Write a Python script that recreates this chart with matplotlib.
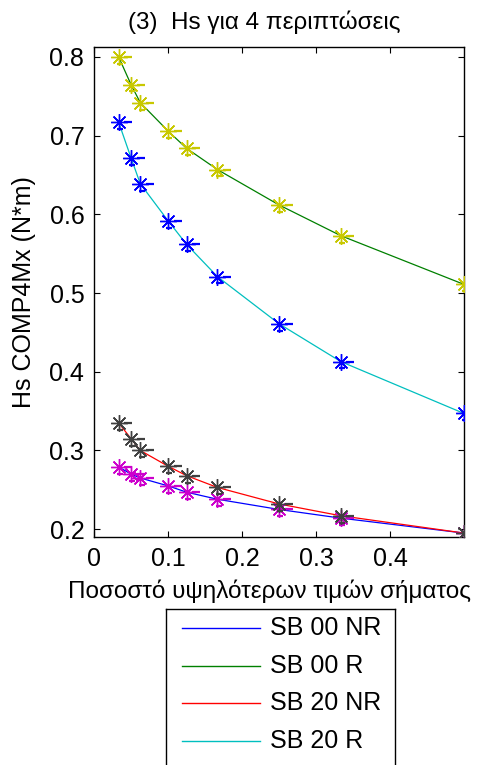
import matplotlib
matplotlib.use("Agg")
import matplotlib.pyplot as plt
import matplotlib.transforms as mtransforms

plt.rcParams['font.family'] = ['Liberation Sans', 'DejaVu Sans']

# ── DATA ──────────────────────────────────────────────────────────────────────
x_vals = [1/30, 1/20, 1/16, 1/10, 1/8, 1/6, 1/4, 1/3, 1/2]

sb00_nr = [0.279, 0.270, 0.265, 0.255, 0.247, 0.238, 0.225, 0.214, 0.195]
sb00_r  = [0.800, 0.765, 0.742, 0.706, 0.684, 0.657, 0.612, 0.573, 0.511]
sb20_nr = [0.335, 0.315, 0.300, 0.280, 0.268, 0.253, 0.232, 0.217, 0.195]
sb20_r  = [0.717, 0.672, 0.639, 0.592, 0.562, 0.521, 0.461, 0.413, 0.347]

labels      = ["SB 00 NR", "SB 00 R", "SB 20 NR", "SB 20 R"]
series      = [sb00_nr, sb00_r, sb20_nr, sb20_r]
line_cols   = ["#0000ff", "#008000", "#ff0000", "#00bfbf"]
marker_cols = ["#cc00cc", "#c8c800", "#404040", "#0000ff"]

xticks = [0, 0.1, 0.2, 0.3, 0.4]
yticks = [0.2, 0.3, 0.4, 0.5, 0.6, 0.7, 0.8]

# ── FIGURE ────────────────────────────────────────────────────────────────────
fig = plt.figure(figsize=(4.82, 7.65), dpi=100)
ax = fig.add_axes([94/482, 1 - 537/765, (464 - 94)/482, (537 - 47)/765])

asterisk = (8, 2, 0)   # MATLAB-like '*' (plus + cross)
for ys, lc, mc in zip(series, line_cols, marker_cols):
    ax.plot(x_vals, ys, color=lc, lw=0.9, zorder=2)
    ax.plot(x_vals, ys, ls="none", marker=asterisk, ms=12, mew=1.0,
            color=mc, zorder=3)
    # extra dash bits that sit beside each marker
    right = mtransforms.offset_copy(ax.transData, fig=fig, x=7, y=0, units="points")
    down = mtransforms.offset_copy(ax.transData, fig=fig, x=1, y=-5, units="points")
    ax.plot(x_vals, ys, ls="none", marker="_", ms=6, mew=1.6,
            color=mc, transform=right, zorder=3)
    ax.plot(x_vals, ys, ls="none", marker="_", ms=4, mew=1.6,
            color=mc, transform=down, zorder=3)

ax.set_xlim(0, 0.5)
ax.set_ylim(0.19, 0.8127)
ax.set_xticks(xticks)
ax.set_xticklabels(["0", "0.1", "0.2", "0.3", "0.4"])
ax.set_yticks(yticks)
ax.set_yticklabels(["0.2", "0.3", "0.4", "0.5", "0.6", "0.7", "0.8"])
ax.tick_params(direction="in", length=4, width=0.8, top=True, right=True,
               labelsize=18, pad=7)
for s in ax.spines.values():
    s.set_linewidth(1.0)

ax.set_title("(3)  Hs για 4 περιπτώσεις", fontsize=17.5, pad=13,
             x=(264 - 94)/370)
ax.set_ylabel("Hs COMP4Mx (N*m)", fontsize=18, labelpad=10)
ax.set_xlabel("Ποσοστό υψηλότερων τιμών σήματος", fontsize=17.5, labelpad=6)
ax.xaxis.label.set_x((270 - 94)/370)

# ── LEGEND BOX (below axes, runs past the bottom edge) ───────────────────────
lg = fig.add_axes([166/482, 0, (395 - 166)/482, (765 - 609)/765])
lg.set_xlim(0, 1)
lg.set_ylim(0, 1)
lg.set_xticks([])
lg.set_yticks([])
lg.spines["bottom"].set_visible(False)
for side in ["left", "top", "right"]:
    lg.spines[side].set_linewidth(1.0)
row_y = [1 - (628 - 609)/156, 1 - (666 - 609)/156,
         1 - (703 - 609)/156, 1 - (741 - 609)/156]
for yy, lab, lc in zip(row_y, labels, line_cols):
    lg.plot([0.07, 0.41], [yy, yy], color=lc, lw=1.0)
    lg.text(0.455, yy, lab, fontsize=18, va="center", ha="left")

fig.savefig("out.png", dpi=100)
